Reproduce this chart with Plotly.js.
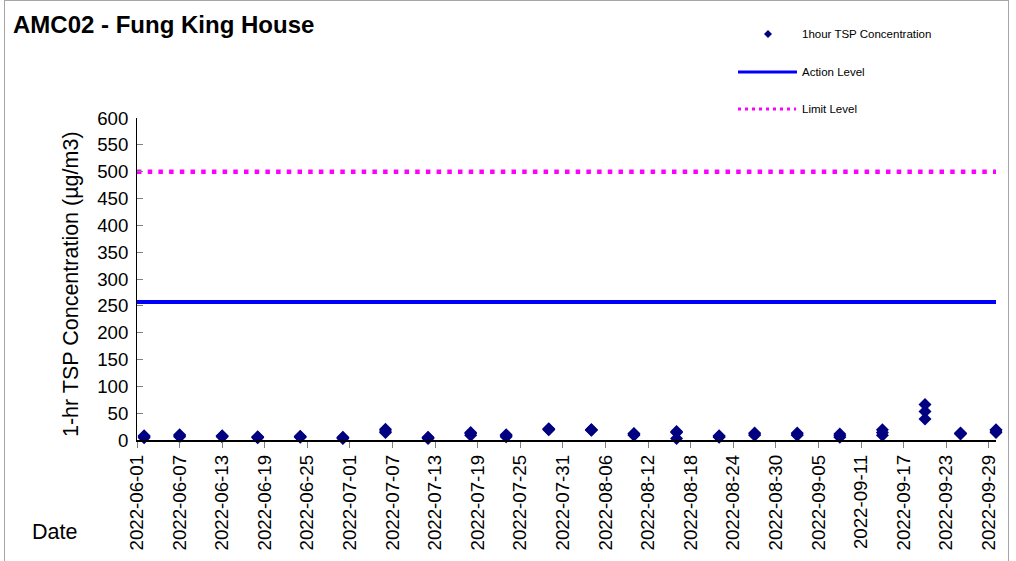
<!DOCTYPE html>
<html>
<head>
<meta charset="utf-8">
<script src="https://cdn.plot.ly/plotly-3.0.1.min.js"></script>
<style>
  html, body { margin: 0; padding: 0; background: #fff; }
  #wrap { position: relative; width: 1016px; height: 561px; overflow: hidden; }
  #chart { position: absolute; left: 0; top: 0; width: 1016px; height: 561px; }
  #frame { position: absolute; left: 4px; top: 0px; width: 1003px; height: 600px;
           border: 1px solid #a6a6a6; pointer-events: none; }
</style>
</head>
<body>
<div id="wrap">
  <div id="chart"></div>
  <div id="frame"></div>
</div>
<script>
// ---- data ----
const sampleDates = ['2022-06-02','2022-06-07','2022-06-13','2022-06-18','2022-06-24','2022-06-30',
  '2022-07-06','2022-07-12','2022-07-18','2022-07-23','2022-07-29','2022-08-04','2022-08-10',
  '2022-08-16','2022-08-22','2022-08-27','2022-09-02','2022-09-08','2022-09-14','2022-09-20',
  '2022-09-25','2022-09-30'];
const reading1 = [4, 6, 6, 4, 5, 3, 14, 3, 9, 6, 19, 18, 9, 3, 5, 9, 9, 5, 9, 39, 11, 14];
const reading2 = [6, 8, 7, 5, 6, 4, 17, 4, 12, 8, 20, 19, 11, 14, 6, 11, 11, 8, 14, 53, 12, 17];
const reading3 = [8, 10, 8, 6, 7, 5, 20, 5, 14, 10, 21, 19, 12, 16, 8, 13, 13, 11, 19, 66, 13, 19];
const levelDates = ['2022-06-01', '2022-09-30'];
const actionLevel = 257;
const limitLevel = 500;
const yTicks = [0, 50, 100, 150, 200, 250, 300, 350, 400, 450, 500, 550, 600];

// ---- build traces ----
const xs = [], ys = [];
[reading1, reading2, reading3].forEach(r => {
  r.forEach((v, i) => { xs.push(sampleDates[i]); ys.push(v); });
});

const FONT = 'Arial, "Liberation Sans", sans-serif';
const L = 137, R = 996, T = 118, B = 440;
const px = x => (x - L) / (R - L);
const py = y => (B - y) / (B - T);

const traces = [
  {
    x: xs, y: ys, type: 'scatter', mode: 'markers', name: '1hour TSP Concentration',
    marker: { symbol: 'diamond', size: 10, color: '#000080', line: { width: 0 } },
    cliponaxis: false, showlegend: false
  },
  {
    x: levelDates, y: levelDates.map(() => actionLevel), type: 'scatter', mode: 'lines',
    name: 'Action Level', line: { color: '#0000FF', width: 4 }, showlegend: false
  },
  {
    x: levelDates, y: levelDates.map(() => limitLevel), type: 'scatter', mode: 'lines',
    name: 'Limit Level', line: { color: '#FF00FF', width: 4.5, dash: '4.5px,6.2px' }, showlegend: false
  }
];

const legendFont = { family: FONT, size: 11.5, color: '#000' };

const layout = {
  width: 1016, height: 561,
  margin: { l: L, r: 1016 - R, t: T, b: 561 - B, pad: 0 },
  paper_bgcolor: '#fff', plot_bgcolor: '#fff',
  font: { family: FONT, color: '#000' },
  showlegend: false,
  title: {
    text: 'AMC02 - Fung King House',
    x: 13 / 1016, xref: 'container', xanchor: 'left',
    y: 1 - 25 / 561, yref: 'container', yanchor: 'middle',
    font: { family: FONT, size: 24, color: '#000', weight: 'bold' }
  },
  xaxis: {
    type: 'date',
    range: ['2022-06-01', '2022-09-30'],
    tick0: '2022-06-01', dtick: 6 * 86400000,
    tickformat: '%Y-%m-%d', tickangle: -90,
    tickfont: { family: FONT, size: 18.67, color: '#000' },
    ticks: 'outside', ticklen: 6, tickcolor: '#808080', tickwidth: 1,
    showline: true, linecolor: '#000', linewidth: 1.5,
    showgrid: false, zeroline: false, fixedrange: true
  },
  yaxis: {
    range: [0, 600], tickvals: yTicks,
    tickfont: { family: FONT, size: 18.67, color: '#000' },
    ticks: 'inside', ticklen: 6, tickcolor: '#808080', tickwidth: 1,
    ticklabelstandoff: 4,
    showline: true, linecolor: '#000', linewidth: 1,
    showgrid: false, zeroline: false, fixedrange: true
  },
  shapes: [
    { type: 'path', xref: 'paper', yref: 'paper',
      path: `M ${px(764)} ${py(34)} L ${px(768)} ${py(30)} L ${px(772)} ${py(34)} L ${px(768)} ${py(38)} Z`,
      fillcolor: '#000080', line: { width: 0 } },
    { type: 'line', xref: 'paper', yref: 'paper', x0: px(738), x1: px(797), y0: py(72), y1: py(72),
      line: { color: '#0000FF', width: 3 } },
    { type: 'line', xref: 'paper', yref: 'paper', x0: px(738), x1: px(796), y0: py(109), y1: py(109),
      line: { color: '#FF00FF', width: 3, dash: '3px,4px' } }
  ],
  annotations: [
    { text: '1-hr TSP Concentration (µg/m3)', xref: 'paper', yref: 'paper', x: px(71), y: py(284),
      textangle: -90, xanchor: 'center', yanchor: 'middle', showarrow: false,
      font: { family: FONT, size: 21.5, color: '#000' } },
    { text: '1hour TSP Concentration', xref: 'paper', yref: 'paper', x: px(800), y: py(34),
      xanchor: 'left', yanchor: 'middle', showarrow: false, font: legendFont },
    { text: 'Action Level', xref: 'paper', yref: 'paper', x: px(800), y: py(72),
      xanchor: 'left', yanchor: 'middle', showarrow: false, font: legendFont },
    { text: 'Limit Level', xref: 'paper', yref: 'paper', x: px(800), y: py(109),
      xanchor: 'left', yanchor: 'middle', showarrow: false, font: legendFont },
    { text: 'Date', xref: 'paper', yref: 'paper', x: px(30), y: py(532),
      xanchor: 'left', yanchor: 'middle', showarrow: false, font: { family: FONT, size: 21.5, color: '#000' } }
  ]
};

Plotly.newPlot('chart', traces, layout, { displayModeBar: false, staticPlot: true });
</script>
</body>
</html>
